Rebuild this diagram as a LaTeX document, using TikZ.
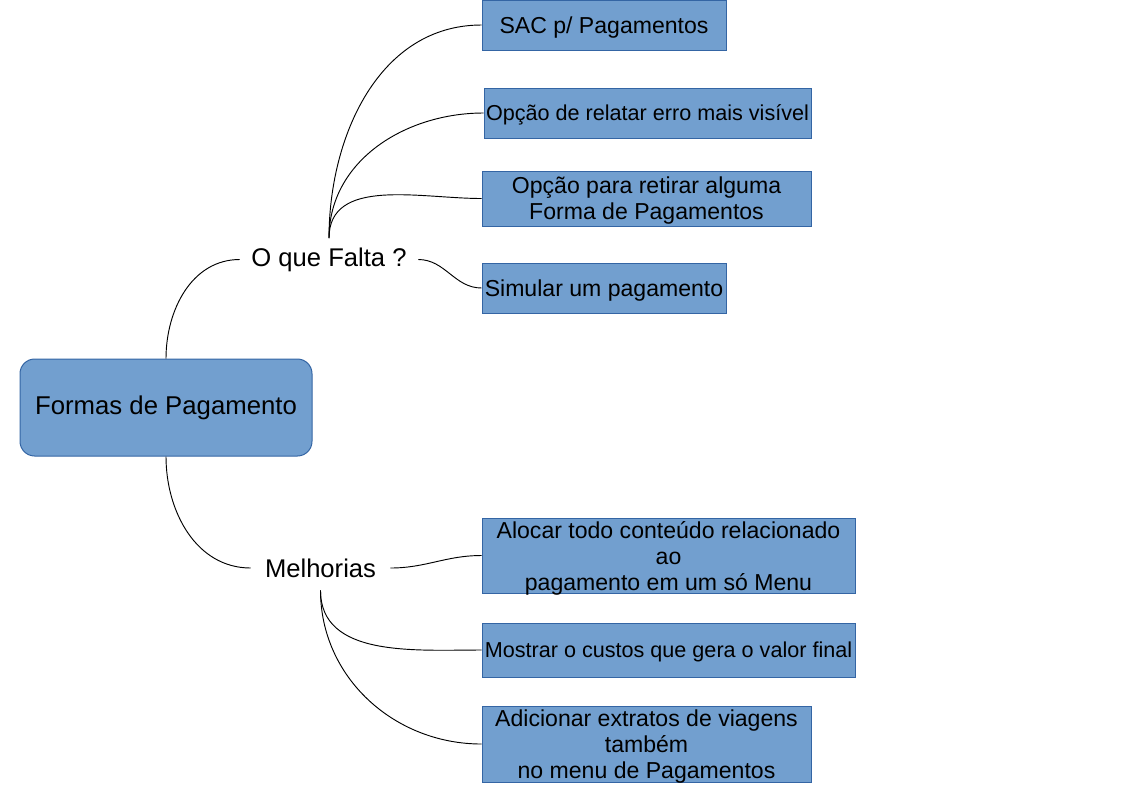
\documentclass[tikz,border=0pt]{standalone}
\usepackage{fontspec}
\setmainfont{Liberation Sans}
\definecolor{boxfill}{HTML}{729FCF}
\definecolor{boxline}{HTML}{3465A4}
\tikzset{
  plain box/.style={draw=boxline, fill=boxfill, line width=0.75pt, inner sep=0pt, align=center},
  box/.style={plain box, text depth=0pt, font=\fontsize{17.3}{19.5}\selectfont},
  smallbox/.style={box, font=\fontsize{16.2}{19.5}\selectfont},
  topic/.style={inner sep=0pt, font=\fontsize{19.2}{22}\selectfont}
}
\begin{document}
\begin{tikzpicture}[x=0.75pt,y=-0.75pt]
      \useasboundingbox (0,0) rectangle (1123,794);
      \node[plain box, rounded corners=11pt, minimum width=219pt, minimum height=72.75pt,
        font=\fontsize{19.3}{22}\selectfont] (root) at (166,407.5) {Formas de Pagamento};
      \node[topic, minimum width=133.5pt, minimum height=31.5pt] (falta) at (329,259.5) {O que Falta ?};
      \node[topic, minimum width=104.25pt, minimum height=33pt] (melhorias) at (320.5,568) {Melhorias};
      \node[box, minimum width=183pt, minimum height=37.5pt] (sac) at (604,25) {SAC p/ Pagamentos};
      \node[smallbox, minimum width=245.25pt, minimum height=37.5pt] (relatar) at (647.5,113) {Opção de relatar erro mais visível};
      \node[box, minimum width=246.75pt, minimum height=41.25pt] (retirar) at (646.5,198.5) {Opção para retirar alguma\\Forma de Pagamentos};
      \node[box, minimum width=183pt, minimum height=37.5pt] (simular) at (604,288) {Simular um pagamento};
      \node[box, minimum width=279.75pt, minimum height=56.25pt] (alocar) at (668.5,555.5) {Alocar todo conteúdo relacionado\\ao\\pagamento em um só Menu};
      \node[smallbox, minimum width=279.75pt, minimum height=40.5pt] (custos) at (668.5,650) {Mostrar o custos que gera o valor final};
      \node[box, minimum width=246.75pt, minimum height=57pt] (extratos) at (646.5,744) {Adicionar extratos de viagens\\também\\no menu de Pagamentos};
      \begin{scope}[-, line width=0.7pt]
        \draw (root.north) to[out=90,in=180] (falta.west);
        \draw (root.south) to[out=-90,in=180] (melhorias.west);
        \draw (falta.north) to[out=90,in=180] (sac.west);
        \draw (falta.north) to[out=90,in=180] (relatar.west);
        \draw (falta.north) to[out=90,in=180] (retirar.west);
        \draw (falta.east) to[out=0,in=180] (simular.west);
        \draw (melhorias.east) to[out=0,in=180] (alocar.west);
        \draw (melhorias.south) to[out=-90,in=180] (custos.west);
        \draw (melhorias.south) to[out=-90,in=180] (extratos.west);
      \end{scope}
    \end{tikzpicture}
\end{document}
